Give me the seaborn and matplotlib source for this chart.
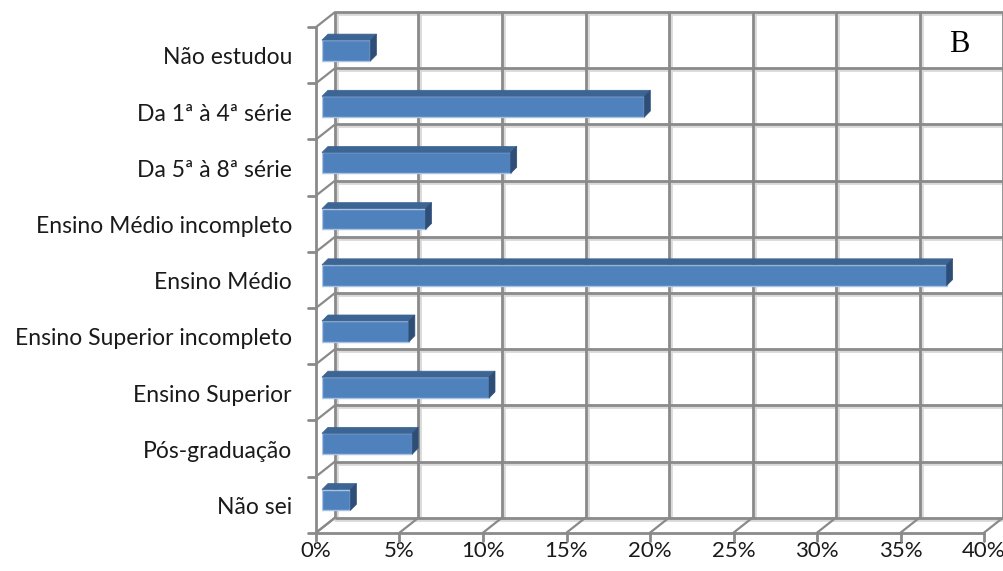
import numpy as np
import pandas as pd
import seaborn as sns
import matplotlib
matplotlib.use("Agg")
import matplotlib.pyplot as plt
from matplotlib.transforms import offset_copy, IdentityTransform
from matplotlib.patches import Polygon

categories = ["Não estudou", "Da 1ª à 4ª série", "Da 5ª à 8ª série",
              "Ensino Médio incompleto", "Ensino Médio",
              "Ensino Superior incompleto", "Ensino Superior",
              "Pós-graduação", "Não sei"]
values = [2.9, 19.3, 11.3, 6.2, 37.4, 5.2, 10.0, 5.4, 1.7]
xticks = [0, 5, 10, 15, 20, 25, 30, 35, 40]
xtick_labels = ["0%", "5%", "10%", "15%", "20%", "25%", "30%", "35%", "40%"]
panel_label = "B"

sns.set_theme(style="white")
plt.rcParams['font.family'] = ['Lato', 'DejaVu Sans']

W, H = 1004, 571
fig = plt.figure(figsize=(W / 100, H / 100), dpi=100)
fig.patch.set_facecolor("white")
ax = fig.add_axes([322 / W, 1 - 528 / H, 668 / W, (528 - 22.4) / H])

df = pd.DataFrame({"cat": categories, "val": values})
sns.barplot(data=df, x="val", y="cat", orient="h", color="#4f81bd",
            saturation=1, width=0.37, edgecolor="#a9c1e2", linewidth=1,
            ax=ax, zorder=3)
n = len(categories)
ax.set_xlim(0, 40)
ax.set_ylim(n - 0.5, -0.5)
ax.axis("off")

back = offset_copy(ax.transData, fig=fig, x=13, y=10.3, units="dots")
front = offset_copy(ax.transData, fig=fig, x=-6, y=-4.7, units="dots")
ident = IdentityTransform()
grid_c = "#8a8a8a"
shadow_c = "#d9d9d9"

bounds = np.arange(-0.5, n, 1.0)

# back wall grid
for xv in xticks:
    ax.plot([xv, xv], [-0.5, n - 0.5], transform=offset_copy(back, fig=fig, x=2, y=0, units="dots"),
            color=shadow_c, lw=2, zorder=0, clip_on=False)
    ax.plot([xv, xv], [-0.5, n - 0.5], transform=back, color=grid_c, lw=2,
            zorder=1, clip_on=False, solid_capstyle="butt")
for b in bounds:
    ax.plot([0, 40], [b, b], transform=offset_copy(back, fig=fig, x=0, y=-2, units="dots"),
            color=shadow_c, lw=2, zorder=0, clip_on=False)
    ax.plot([0, 40], [b, b], transform=back, color=grid_c, lw=2,
            zorder=1, clip_on=False, solid_capstyle="butt")

# left wall diagonals
for b in bounds:
    p1 = front.transform((0, b))
    p2 = back.transform((0, b))
    ax.plot([p1[0], p2[0]], [p1[1], p2[1]], transform=ident, color=grid_c,
            lw=1.6, zorder=1, clip_on=False)
# floor diagonals
for xv in xticks:
    p1 = front.transform((xv, n - 0.5))
    p2 = back.transform((xv, n - 0.5))
    ax.plot([p1[0], p2[0]], [p1[1], p2[1]], transform=ident, color=grid_c,
            lw=1.6, zorder=1, clip_on=False)

# 3D faces on bars
d = 6
for patch in ax.patches:
    bb = patch.get_bbox()
    (x0, y0) = ax.transData.transform((bb.x0, bb.y0))
    (x1, y1) = ax.transData.transform((bb.x1, bb.y1))
    xa, xb = min(x0, x1), max(x0, x1)
    ya, yb = min(y0, y1), max(y0, y1)
    top = Polygon([(xa, yb), (xb, yb), (xb + d, yb + d), (xa + d, yb + d)],
                  closed=True, transform=ident, facecolor="#3d6594",
                  edgecolor="#3d6594", lw=0.5, zorder=4)
    side = Polygon([(xb, ya), (xb, yb), (xb + d, yb + d), (xb + d, ya + d)],
                   closed=True, transform=ident, facecolor="#2e4e78",
                   edgecolor="#2e4e78", lw=0.5, zorder=4)
    fig.add_artist(top)
    fig.add_artist(side)

# front axes
ax.plot([0, 0], [-0.5, n - 0.5], transform=front, color=grid_c, lw=2,
        zorder=5, clip_on=False)
ax.plot([0, 40], [n - 0.5, n - 0.5], transform=front, color=grid_c, lw=2,
        zorder=5, clip_on=False)
for b in bounds:
    p = front.transform((0, b))
    ax.plot([p[0] - 8, p[0]], [p[1], p[1]], transform=ident, color=grid_c,
            lw=2, zorder=5, clip_on=False)
for xv in xticks:
    p = front.transform((xv, n - 0.5))
    ax.plot([p[0], p[0]], [p[1] - 8, p[1]], transform=ident, color=grid_c,
            lw=2, zorder=5, clip_on=False)

# labels
lab_tr = offset_copy(ax.transData, fig=fig, x=-30, y=-7.5, units="dots")
for i, cat in enumerate(categories):
    ax.text(0, i, cat, transform=lab_tr, ha="right", va="center",
            fontsize=16.5, color="#1a1a1a", clip_on=False)
xt_tr = offset_copy(front, fig=fig, x=0, y=-18, units="dots")
for xv, lab in zip(xticks, xtick_labels):
    ax.text(xv, n - 0.5, lab, transform=xt_tr, ha="center", va="center",
            fontsize=16, color="#1a1a1a", clip_on=False)

fig.text(959 / W, 1 - 44 / H, panel_label, ha="center", va="center",
         fontsize=22, family="Liberation Serif", color="black")

fig.savefig("out.png", dpi=100, facecolor="white")
